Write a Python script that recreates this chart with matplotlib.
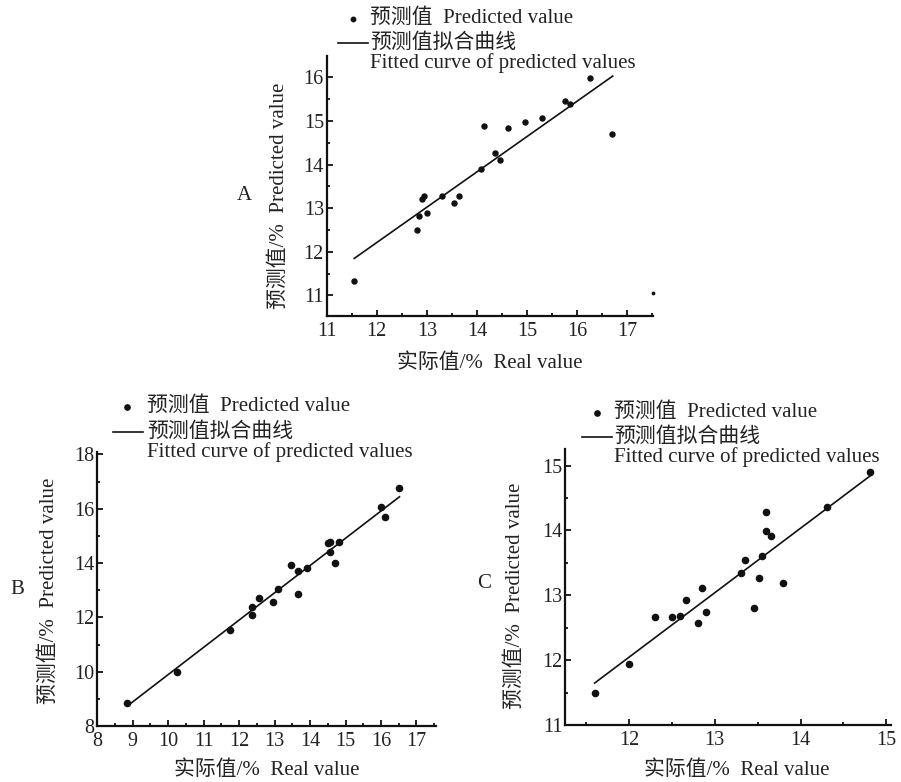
import numpy as np
import matplotlib
matplotlib.use('Agg')
import matplotlib.pyplot as plt
from matplotlib.ticker import MultipleLocator

plt.rcParams['font.family'] = ['Liberation Serif', 'Noto Sans CJK SC']
plt.rcParams['font.size'] = 15
plt.rcParams['text.color'] = '#222222'

# A
a_x = [11.55, 12.81, 12.85, 12.90, 12.95, 13.01, 13.31, 13.55, 13.65, 14.09,
       14.15, 14.35, 14.45, 14.61, 14.95, 15.30, 15.75, 15.85, 16.25, 16.70]
a_y = [11.34, 12.50, 12.82, 13.22, 13.29, 12.88, 13.29, 13.13, 13.28, 13.89,
       14.89, 14.27, 14.11, 14.84, 14.98, 15.06, 15.45, 15.38, 15.98, 14.70]
a_stray_x = [17.52]
a_stray_y = [11.05]
a_fit_x = [11.55, 16.71]
a_fit_y = [11.85, 16.03]

# B
b_x = [8.85, 10.25, 11.74, 12.35, 12.35, 12.55, 12.95, 13.09, 13.46, 13.65,
       13.65, 13.90, 14.51, 14.56, 14.56, 14.81, 14.71, 16.00, 16.12, 16.51]
b_y = [8.83, 10.00, 11.52, 12.09, 12.37, 12.70, 12.58, 13.03, 13.93, 13.69,
       12.86, 13.80, 14.72, 14.79, 14.42, 14.76, 14.01, 16.07, 15.69, 16.77]
b_fit_x = [8.85, 16.52]
b_fit_y = [8.74, 16.44]

# C
c_x = [11.60, 12.00, 12.30, 12.50, 12.60, 12.66, 12.80, 12.85, 12.90, 13.30,
       13.35, 13.46, 13.51, 13.55, 13.60, 13.60, 13.65, 13.80, 14.31, 14.81]
c_y = [11.49, 11.94, 12.66, 12.67, 12.69, 12.93, 12.57, 13.11, 12.74, 13.35,
       13.54, 12.81, 13.27, 13.61, 14.28, 13.99, 13.91, 13.19, 14.36, 14.90]
c_fit_x = [11.60, 14.81]
c_fit_y = [11.65, 14.84]

W, H = 901, 782
fig = plt.figure(figsize=(W / 100, H / 100), dpi=100)


def px(x, y):
    return x / W, 1 - y / H


def make_ax(l, t, r, b):
    ax = fig.add_axes([l / W, 1 - b / H, (r - l) / W, (b - t) / H])
    for s in ['top', 'right']:
        ax.spines[s].set_visible(False)
    for s in ['left', 'bottom']:
        ax.spines[s].set_linewidth(1.6)
        ax.spines[s].set_color('#111111')
    ax.tick_params(which='both', direction='in', width=1.3, colors='#111111',
                   labelcolor='#222222', labelsize=14.5)
    ax.tick_params(which='major', length=4)
    ax.tick_params(which='minor', length=2.5)
    ax.tick_params(axis='y', pad=2)
    ax.tick_params(axis='x', pad=4)
    return ax


def legend_text(dx, dy, lx0, lx1, ly, tx, t1y, t2y, t3y, ms):
    fig.lines.append(plt.Line2D([dx / W], [1 - dy / H], marker='o', ms=ms,
                                color='#111111', lw=0, transform=fig.transFigure))
    fig.lines.append(plt.Line2D([lx0 / W, lx1 / W], [1 - ly / H, 1 - ly / H],
                                color='#111111', lw=1.2, transform=fig.transFigure))
    fig.text(*px(tx, t1y), '预测值  Predicted value', ha='left', va='center')
    fig.text(*px(tx, t2y), '预测值拟合曲线', ha='left', va='center')
    fig.text(*px(tx, t3y), 'Fitted curve of predicted values', ha='left', va='center')


# panel A
ax = make_ax(326.7, 56, 653.3, 316)
ax.scatter(a_x, a_y, s=13, color='#111111', zorder=3, clip_on=False)
ax.scatter(a_stray_x, a_stray_y, s=3, color='#111111', zorder=3, clip_on=False)
ax.plot(a_fit_x, a_fit_y, color='#111111', lw=1.2)
ax.set_xlim(11, 17.52)
ax.set_ylim(10.53, 16.49)
ax.set_xticks(range(11, 18))
ax.set_yticks(range(11, 17))
ax.xaxis.set_minor_locator(MultipleLocator(0.5))
ax.yaxis.set_minor_locator(MultipleLocator(0.5))
legend_text(352.7, 19, 338, 368, 43, 370, 18, 43, 63.5, 3.2)
fig.text(*px(244, 196), 'A', ha='center', va='center')
fig.text(*px(279, 196), '预测值/%  Predicted value', ha='center', va='center', rotation=90)
fig.text(*px(490, 363), '实际值/%  Real value', ha='center', va='center')

# panel B
ax = make_ax(97.3, 451.7, 436, 726)
ax.scatter(b_x, b_y, s=20, color='#111111', zorder=3, clip_on=False)
ax.plot(b_fit_x, b_fit_y, color='#111111', lw=1.2)
ax.set_xlim(8, 17.55)
ax.set_ylim(8, 18.1)
ax.set_xticks(range(8, 18))
ax.set_yticks(range(8, 19, 2))
ax.xaxis.set_minor_locator(MultipleLocator(0.5))
ax.yaxis.set_minor_locator(MultipleLocator(1))
legend_text(127.3, 406.7, 113, 143, 432.3, 146.7, 406, 432, 452, 3.8)
fig.text(*px(17.5, 590), 'B', ha='center', va='center')
fig.text(*px(49, 591), '预测值/%  Predicted value', ha='center', va='center', rotation=90)
fig.text(*px(266.5, 770), '实际值/%  Real value', ha='center', va='center')

# panel C
ax = make_ax(565, 449.3, 890.7, 725.3)
ax.scatter(c_x, c_y, s=20, color='#111111', zorder=3, clip_on=False)
ax.plot(c_fit_x, c_fit_y, color='#111111', lw=1.2)
ax.set_xlim(11.255, 15.05)
ax.set_ylim(11, 15.25)
ax.set_xticks(range(12, 16))
ax.set_yticks(range(11, 16))
ax.xaxis.set_minor_locator(MultipleLocator(0.5))
ax.yaxis.set_minor_locator(MultipleLocator(0.5))
legend_text(596.7, 412.7, 581.7, 611.7, 437.3, 614, 412, 437, 457, 3.8)
fig.text(*px(484, 584), 'C', ha='center', va='center')
fig.text(*px(515, 596), '预测值/%  Predicted value', ha='center', va='center', rotation=90)
fig.text(*px(736.7, 770), '实际值/%  Real value', ha='center', va='center')

fig.savefig('out.png', dpi=100)
